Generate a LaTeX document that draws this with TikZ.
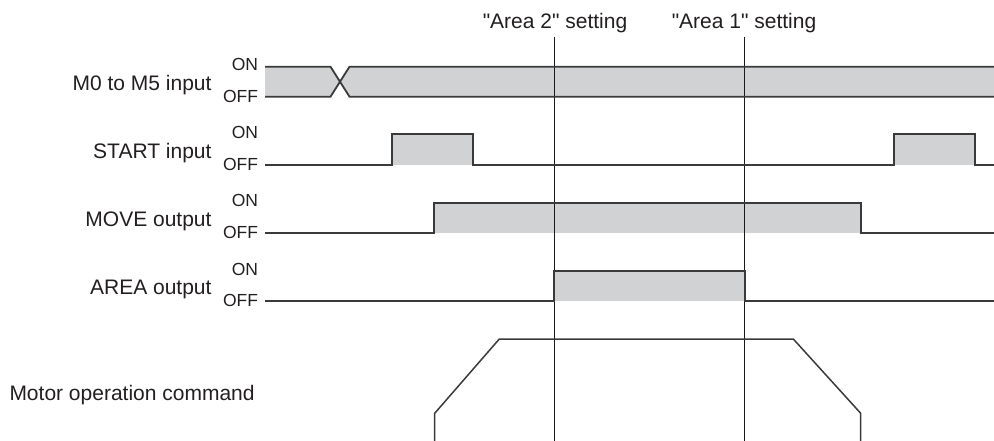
\documentclass[tikz,border=0pt]{standalone}
\usepackage{fontspec}
\setmainfont{Liberation Sans}[Ligatures=TeXOff]
\definecolor{sig}{HTML}{3A3A3A}
\definecolor{fillg}{HTML}{D1D2D4}
\definecolor{txt}{HTML}{231F20}
\begin{document}
\begin{tikzpicture}[x=1pt,y=-1pt,
  lbl/.style={anchor=base east, inner sep=0pt, font=\fontsize{21}{25}\selectfont, text=txt},
  lvl/.style={anchor=base east, inner sep=0pt, font=\fontsize{17.5}{20}\selectfont, text=txt},
  ttl/.style={anchor=base, inner sep=0pt, font=\fontsize{21}{25}\selectfont, text=txt},
  wave/.style={draw=sig, line width=1.8pt, line join=miter},
  band/.style={fill=fillg},
  marker/.style={draw=black!90, line width=1.2pt},
  cmd/.style={draw=sig, line width=1.5pt, line join=miter}]
\useasboundingbox (0,0) rectangle (994,441);

% ---- fills ----
\fill[band] (265,66.7) -- (330.5,66.7) -- (340,81.7) -- (330.5,96.7) -- (265,96.7) -- cycle;
\fill[band] (349.5,66.7) -- (994,66.7) -- (994,96.7) -- (349.5,96.7) -- (340,81.7) -- cycle;
\fill[band] (392.3,134.3) rectangle (473.3,165);
\fill[band] (894.3,134.3) rectangle (975,165);
\fill[band] (434.3,202.7) rectangle (860.7,232.7);
\fill[band] (554.3,271) rectangle (745,301);

% ---- markers ----
\coordinate (a2top) at (554.5,36.7);
\coordinate (a2bot) at (554.5,441);
\coordinate (a1top) at (744.5,36.7);
\coordinate (a1bot) at (744.5,441);
\draw[marker] (a2top) -- (a2bot);
\draw[marker] (a1top) -- (a1bot);

% ---- waveforms ----
\draw[wave] (265,66.7) -- (330.5,66.7) -- (349.5,96.7) -- (994,96.7);
\draw[wave] (265,96.7) -- (330.5,96.7) -- (349.5,66.7) -- (994,66.7);
\draw[wave] (265,165) -- (392.3,165) -- (392.3,134.3) -- (473.3,134.3) -- (473.3,165)
  -- (894.3,165) -- (894.3,134.3) -- (975,134.3) -- (975,165) -- (994,165);
\draw[wave] (265,232.7) -- (434.3,232.7) -- (434.3,202.7) -- (860.7,202.7) -- (860.7,232.7) -- (994,232.7);
\draw[wave] (265,301) -- (554.3,301) -- (554.3,271) -- (745,271) -- (745,301) -- (994,301);
\draw[cmd] (434.7,441) -- (434.7,413.3) -- (499.3,339) -- (793.3,339) -- (860.7,413.3) -- (860.7,441);

% ---- labels ----
\node[ttl] (t2) at (555,28.5) {"Area 2" setting};
\node[ttl] (t1) at (744,28.5) {"Area 1" setting};

\node[lbl] (m0) at (211.7,90.7) {M0 to M5 input};
\node[lvl] (m0on) at (258.3,70.7) {ON};
\node[lvl] (m0off) at (258.3,102.2) {OFF};

\node[lbl] (st) at (211.7,158.3) {START input};
\node[lvl] (ston) at (258.3,138.3) {ON};
\node[lvl] (stoff) at (258.3,170.5) {OFF};

\node[lbl] (mv) at (211.7,226.7) {MOVE output};
\node[lvl] (mvon) at (258.3,206.7) {ON};
\node[lvl] (mvoff) at (258.3,238.2) {OFF};

\node[lbl] (ar) at (211.7,294) {AREA output};
\node[lvl] (aron) at (258.3,275) {ON};
\node[lvl] (aroff) at (258.3,306.5) {OFF};

\node[anchor=base west, inner sep=0pt, font=\fontsize{21}{25}\selectfont, text=txt] (mc) at (9.3,400) {Motor operation command};
\end{tikzpicture}
\end{document}
